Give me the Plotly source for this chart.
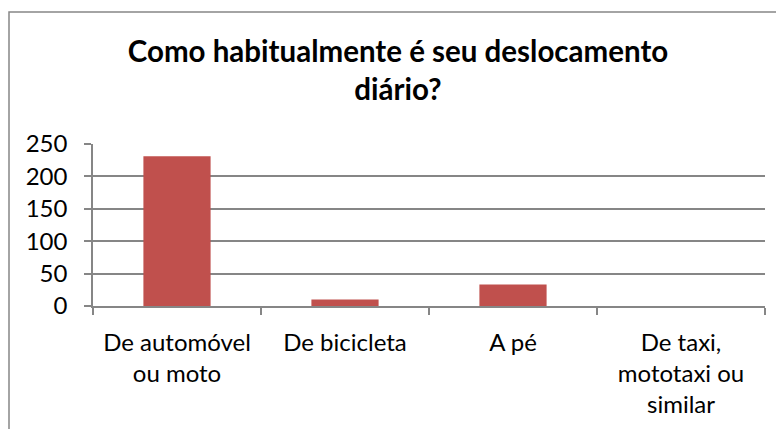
import plotly.graph_objects as go

categories = ["De automóvel<br>ou moto", "De bicicleta", "A pé", "De taxi,<br>mototaxi ou<br>similar"]
values = [231, 10, 33, 0]
y_ticks = [0, 50, 100, 150, 200, 250]
title_text = "Como habitualmente é seu deslocamento<br>diário?"

# page body has an 8px margin, so the figure is drawn 8px in from the top-left
W, H = 776, 421
L, R, T, B = 85, 19, 136, 123
pw, ph = W - L - R, H - T - B

def px(x):
    return (x - L) / pw

def py(y):
    return (H - B - y) / ph

FONT = "Lato"
grid = "#868686"

fig = go.Figure(go.Bar(
    x=categories, y=values,
    marker=dict(color="#C0504D", line=dict(width=0)),
    width=0.4,
))

fig.update_layout(
    width=W, height=H,
    margin=dict(l=L, r=R, t=T, b=B, autoexpand=False),
    paper_bgcolor="white", plot_bgcolor="white",
    showlegend=False,
    font=dict(family=FONT, size=24, color="black"),
    title=dict(text=title_text, x=390 / W, xanchor="center", xref="container",
               y=1 - 54 / H, yanchor="middle", yref="container",
               font=dict(family=FONT, size=29.5, color="black", weight="bold")),
    bargap=0.6,
)

fig.update_xaxes(
    type="category", showline=True, linecolor=grid, linewidth=1.5,
    ticks="outside", tickson="boundaries", ticklen=7, tickcolor=grid, tickwidth=1.5,
    showgrid=False, automargin=False, range=[-0.5, 3.5], ticklabelstandoff=14,
    tickfont=dict(family=FONT, size=24, color="black"),
)
fig.update_yaxes(
    range=[0, 250], tickvals=y_ticks, showline=True, linecolor=grid, linewidth=1.5,
    ticks="outside", ticklen=7, tickcolor=grid, tickwidth=1.5, ticklabelstandoff=12,
    showgrid=True, gridcolor=grid, gridwidth=1.5, zeroline=False, automargin=False,
    tickfont=dict(family=FONT, size=24, color="black"),
)

fig.add_shape(type="rect", xref="paper", yref="paper",
              x0=px(1), x1=px(800), y0=py(450), y1=py(4),
              line=dict(color="#878787", width=1.5), fillcolor="rgba(0,0,0,0)", layer="below")

fig.write_html("out.html")
